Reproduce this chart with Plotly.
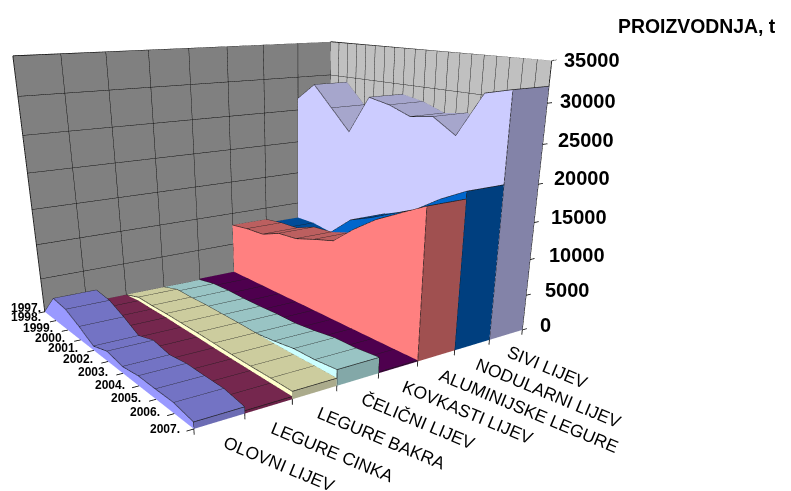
import plotly.graph_objects as go

YEARS = ["1997.", "1998.", "1999.", "2000.", "2001.", "2002.", "2003.", "2004.", "2005.", "2006.", "2007."]
CATEGORIES = ["OLOVNI LIJEV", "LEGURE CINKA", "LEGURE BAKRA", "ČELIČNI LIJEV", "KOVKASTI LIJEV",
              "ALUMINIJSKE LEGURE", "NODULARNI LIJEV", "SIVI LIJEV"]
VALUE_TICKS = [0, 5000, 10000, 15000, 20000, 25000, 30000, 35000]

OLOVNI = [0, 3300, 3000, 1900, 600, 1400, 900, 1300, 1300, 1350, 830]
CINKA = [100, 400, 400, 450, 400, 400, 350, 350, 350, 350, 350]
BAKRA = [100, 950, 950, 1050, 1050, 1050, 1000, 950, 950, 1000, 1000]
CELICNI = [100, 640, 770, 750, 820, 970, 990, 1300, 1750, 1800, 2100]
KOVKASTI = [300, 300, 280, 250, 250, 230, 200, 180, 170, 150, 150]
ALUMINIJ = [8100, 8450, 8550, 9650, 9850, 10750, 11550, 14150, 16350, 18050, 19750]
NODULARNI = [7500, 7500, 7000, 8000, 9900, 12600, 13850, 15300, 16700, 18900, 20700]
SIVI = [26700, 29200, 26200, 23200, 28600, 28000, 26900, 27400, 25500, 31200, 32000]

SERIES = [OLOVNI, CINKA, BAKRA, CELICNI, KOVKASTI, ALUMINIJ, NODULARNI, SIVI]
SIDE = ["#9999FF", "#993366", "#FFFFCC", "#CCFFFF", "#660066", "#FF8080", "#0066CC", "#CCCCFF"]
TOP = ["#7373C4", "#75274E", "#CCCC9E", "#99C4C4", "#4E004E", "#BC5F5F", "#004C99", "#A6A6CC"]
FRONT = ["#6C6CB4", "#6B2348", "#ABAB8C", "#83A8A8", "#470047", "#A05050", "#003F7F", "#8383A8"]

W, H = 775, 730
OFF = 8   # page margin of the browser
LIGHT = dict(ambient=1, diffuse=0, specular=0, fresnel=0, roughness=1)
LINE = "#000000"
fig = go.Figure()
n = len(YEARS)
nc = len(CATEGORIES)
ypos = [n - 1 - i for i in range(n)]
zmax = VALUE_TICKS[-1]

# walls
fig.add_trace(go.Mesh3d(x=[0, nc, nc, 0], y=[n - 1] * 4, z=[0, 0, zmax, zmax], i=[0, 0], j=[1, 2], k=[2, 3],
                        color="#808080", flatshading=True, lighting=LIGHT, hoverinfo="skip", showscale=False))
fig.add_trace(go.Mesh3d(x=[nc] * 4, y=[0, n - 1, n - 1, 0], z=[0, 0, zmax, zmax], i=[0, 0], j=[1, 2], k=[2, 3],
                        color="#C0C0C0", flatshading=True, lighting=LIGHT, hoverinfo="skip", showscale=False))
gx, gy, gz = [], [], []
for t in VALUE_TICKS:
    gx += [0, nc, nc, None]; gy += [n - 1, n - 1, 0, None]; gz += [t, t, t, None]
for k in range(nc + 1):
    gx += [k, k, None]; gy += [n - 1, n - 1, None]; gz += [0, zmax, None]
for j in range(2 * (n - 1) + 1):
    gx += [nc, nc, None]; gy += [j / 2, j / 2, None]; gz += [0, zmax, None]
# tick marks
for t in VALUE_TICKS:
    gx += [nc, nc + 0.14, None]; gy += [0, 0, None]; gz += [t, t, None]
for k in range(nc + 1):
    gx += [k, k, None]; gy += [0, 0, None]; gz += [0, -700, None]
for j in range(n):
    gx += [0, -0.14, None]; gy += [j, j, None]; gz += [0, 0, None]
fig.add_trace(go.Scatter3d(x=gx, y=gy, z=gz, mode="lines", line=dict(color=LINE, width=1.6), hoverinfo="skip"))

for k, vals in enumerate(SERIES):
    vx, vy, vz, a, b, c, colors = [], [], [], [], [], [], []
    for i, v in enumerate(vals):
        vx += [k, k, k + 1, k + 1]
        vy += [ypos[i]] * 4
        vz += [0, v, v, 0]

    def quad(p, q, r, s, col):
        a.extend([p, p]); b.extend([q, r]); c.extend([r, s]); colors.extend([col, col])

    for i in range(n - 1):
        m = 4 * i
        quad(m, m + 1, m + 5, m + 4, SIDE[k])
        quad(m + 1, m + 2, m + 6, m + 5, TOP[k])
    m = 4 * (n - 1)
    quad(m, m + 1, m + 2, m + 3, FRONT[k])
    fig.add_trace(go.Mesh3d(x=vx, y=vy, z=vz, i=a, j=b, k=c, facecolor=colors, flatshading=True,
                            lighting=LIGHT, hoverinfo="skip", showscale=False))
    lx, ly, lz = [], [], []
    for i, v in enumerate(vals):
        lx += [k, k + 1, None]; ly += [ypos[i], ypos[i], None]; lz += [v, v, None]
    for off in (0, 1):
        lx += [k + off] * n + [None]; ly += ypos + [None]; lz += list(vals) + [None]
    lx += [k, k, None, k + 1, k + 1, None]; ly += [0, 0, None, 0, 0, None]; lz += [0, vals[-1], None, 0, vals[-1], None]
    fig.add_trace(go.Scatter3d(x=lx, y=ly, z=lz, mode="lines", line=dict(color="#1A1A1A", width=1.4), hoverinfo="skip"))


def px(x):
    return (x - OFF) / W


def py(y):
    return 1 - (y - OFF) / H


annotations = [dict(text="<b>PROIZVODNJA, t</b>", x=px(697), y=py(26), xref="paper", yref="paper", xanchor="center",
                    yanchor="middle", showarrow=False, font=dict(family="Liberation Sans", size=19.4, color="black"))]
VALUE_PX = [(538, 325), (543, 290), (547, 255), (549, 217), (552, 178), (556, 140), (558, 101), (562, 60)]
for t, (x, y) in zip(VALUE_TICKS, VALUE_PX):
    annotations.append(dict(text=f"<b>{t}</b>", x=px(x), y=py(y), xref="paper", yref="paper", xanchor="left",
                            yanchor="middle", showarrow=False, font=dict(family="Liberation Sans", size=20, color="black")))
YEAR_PX = [(43, 308), (43, 317), (55, 328), (67, 338), (80, 348), (95, 359), (110, 372), (127, 385), (143, 398), (162, 412), (182, 429)]
for t, (x, y) in zip(YEARS, YEAR_PX):
    annotations.append(dict(text=f"<b>{t}</b>", x=px(x), y=py(y), xref="paper", yref="paper", xanchor="right",
                            yanchor="middle", showarrow=False, font=dict(family="Liberation Sans", size=12, color="black")))
CAT_PX = [(279, 464), (332, 452), (381, 438), (418, 420), (467, 412), (529, 411), (548, 393), (547, 367)]
for t, (x, y) in zip(CATEGORIES, CAT_PX):
    annotations.append(dict(text=t, x=px(x), y=py(y), xref="paper", yref="paper", xanchor="center", yanchor="middle",
                            textangle=22.5, showarrow=False, font=dict(family="Liberation Sans", size=17.5, color="black")))

hidden = dict(visible=False, autorange=False)
fig.update_layout(
    width=W, height=H, autosize=False, showlegend=False, paper_bgcolor="white",
    margin=dict(l=0, r=0, t=0, b=0), annotations=annotations,
    scene=dict(
        domain=dict(x=[0, 584 / W], y=[0, 1]),
        aspectmode="manual", aspectratio=dict(x=1.155 * 8.4 / 8, y=1.01, z=0.7905 * 35800 / 35000),
        camera=dict(eye=dict(x=-1.452, y=-2.201, z=0.6006), center=dict(x=0.0907, y=0.0023, z=-0.5929),
                    up=dict(x=0, y=0, z=1), projection=dict(type="perspective")),
        xaxis=dict(hidden, range=[-0.2, 8.2]),
        yaxis=dict(hidden, range=[0, 10]),
        zaxis=dict(hidden, range=[-800, 35000]),
    ),
)
fig.write_html("out.html")
